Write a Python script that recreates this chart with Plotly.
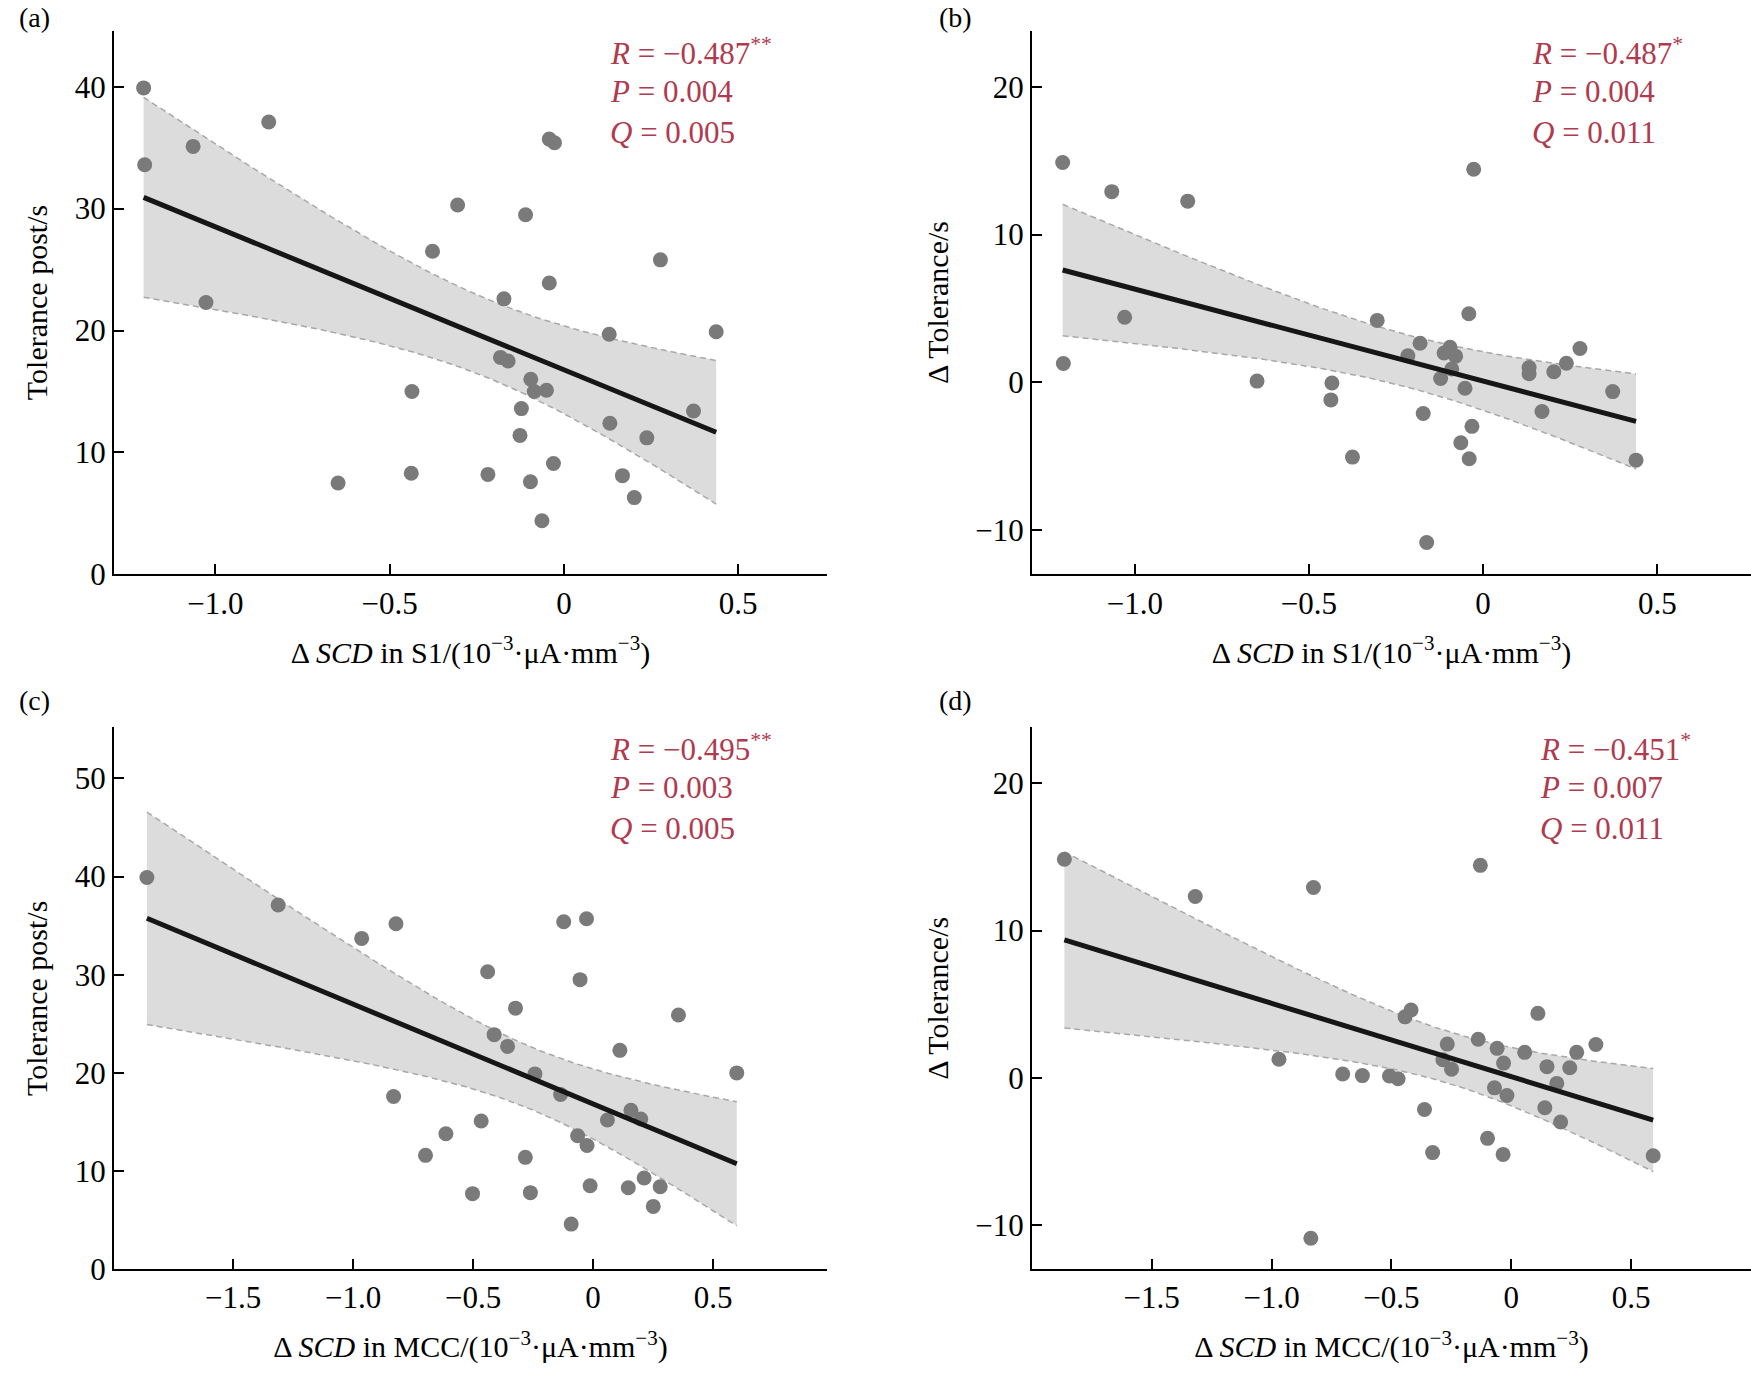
import numpy as np
from plotly import graph_objects as go

# panel (a): delta SCD in S1 vs tolerance post
scd_s1_a = [-1.206, -1.203, -0.847, -1.064, -1.027, -0.648, -0.436, -0.438, -0.377, -0.305,
            -0.218, -0.172, -0.182, -0.160, -0.110, -0.122, -0.126, -0.095, -0.085, -0.050,
            -0.096, -0.063, -0.042, -0.042, -0.027, -0.030, 0.130, 0.132, 0.168, 0.202,
            0.238, 0.277, 0.372, 0.437]
tol_post_a = [39.9, 33.6, 37.1, 35.1, 22.3, 7.5, 15.0, 8.3, 26.5, 30.3,
              8.2, 22.6, 17.8, 17.5, 29.5, 13.6, 11.4, 16.0, 15.0, 15.1,
              7.6, 4.4, 23.9, 35.7, 35.4, 9.1, 19.7, 12.4, 8.1, 6.3,
              11.2, 25.8, 13.4, 19.9]

# panel (b): delta SCD in S1 vs delta tolerance
scd_s1_b = [-1.207, -1.205, -1.066, -0.848, -1.029, -0.649, -0.434, -0.437, -0.375, -0.304,
            -0.181, -0.216, -0.112, -0.095, -0.079, -0.090, -0.122, -0.052, -0.172, -0.032,
            -0.064, -0.040, -0.162, -0.027, -0.041, 0.132, 0.132, 0.169, 0.203, 0.239,
            0.278, 0.372, 0.439]
d_tol_b = [14.87, 1.27, 12.9, 12.26, 4.4, 0.08, -0.05, -1.19, -5.06, 4.19,
           2.64, 1.79, 1.98, 2.37, 1.77, 0.90, 0.26, -0.40, -2.11, -2.98,
           -4.09, -5.17, -10.84, 14.42, 4.64, 1.00, 0.58, -1.98, 0.71, 1.29,
           2.29, -0.63, -5.27]

# panel (c): delta SCD in MCC vs tolerance post
scd_mcc_c = [-1.859, -1.312, -0.964, -0.821, -0.831, -0.698, -0.613, -0.502, -0.466, -0.439,
             -0.412, -0.356, -0.323, -0.282, -0.261, -0.242, -0.135, -0.122, -0.091, -0.064,
             -0.054, -0.027, -0.025, -0.012, 0.060, 0.112, 0.147, 0.158, 0.199, 0.213,
             0.251, 0.280, 0.356, 0.599]
tol_post_c = [39.9, 37.1, 33.7, 35.2, 17.6, 11.6, 13.8, 7.7, 15.1, 30.3,
              23.9, 22.7, 26.6, 11.4, 7.8, 19.9, 17.8, 35.4, 4.6, 13.6,
              29.5, 35.7, 12.6, 8.5, 15.2, 22.3, 8.3, 16.2, 15.3, 9.3,
              6.4, 8.4, 25.9, 20.0]

# panel (d): delta SCD in MCC vs delta tolerance
scd_mcc_d = [-1.864, -1.318, -0.825, -0.836, -0.969, -0.703, -0.621, -0.508, -0.472, -0.443,
             -0.418, -0.362, -0.328, -0.267, -0.285, -0.249, -0.138, -0.129, -0.099, -0.070,
             -0.059, -0.032, -0.034, -0.018, 0.056, 0.111, 0.149, 0.140, 0.190, 0.206,
             0.244, 0.273, 0.353, 0.592]
d_tol_d = [14.84, 12.31, 12.93, -10.90, 1.26, 0.26, 0.15, 0.12, -0.06, 4.14,
           4.61, -2.15, -5.08, 2.29, 1.23, 0.59, 2.62, 14.43, -4.11, -0.68,
           2.00, 1.00, -5.20, -1.20, 1.73, 4.38, 0.76, -2.03, -0.38, -3.00,
           0.68, 1.73, 2.26, -5.29]

stats_a = ["<i>R</i> = −0.487<sup>**</sup>", "<i>P</i> = 0.004", "<i>Q</i> = 0.005"]
stats_b = ["<i>R</i> = −0.487<sup>*</sup>", "<i>P</i> = 0.004", "<i>Q</i> = 0.011"]
stats_c = ["<i>R</i> = −0.495<sup>**</sup>", "<i>P</i> = 0.003", "<i>Q</i> = 0.005"]
stats_d = ["<i>R</i> = −0.451<sup>*</sup>", "<i>P</i> = 0.007", "<i>Q</i> = 0.011"]

x_ticks_s1 = [-1.0, -0.5, 0, 0.5]
x_text_s1 = ["−1.0", "−0.5", "0", "0.5"]
x_ticks_mcc = [-1.5, -1.0, -0.5, 0, 0.5]
x_text_mcc = ["−1.5", "−1.0", "−0.5", "0", "0.5"]
y_ticks_post_a = [0, 10, 20, 30, 40]
y_ticks_post_c = [0, 10, 20, 30, 40, 50]
y_ticks_delta = [-10, 0, 10, 20]
y_text_delta = ["−10", "0", "10", "20"]

title_s1 = "Δ <i>SCD</i> in S1/(10<sup>−3</sup>·μA·mm<sup>−3</sup>)"
title_mcc = "Δ <i>SCD</i> in MCC/(10<sup>−3</sup>·μA·mm<sup>−3</sup>)"

W, H = 1751, 1380
FONT = "Liberation Serif, Times New Roman, serif"
RED = "#B03A4E"


def fit_band(x, y):
    # least squares line with 95% confidence band
    x = np.asarray(x, float)
    y = np.asarray(y, float)
    n = len(x)
    b1, b0 = np.polyfit(x, y, 1)
    xs = np.linspace(x.min(), x.max(), 120)
    yhat = b0 + b1 * xs
    s = np.sqrt(np.sum((y - (b0 + b1 * x)) ** 2) / (n - 2))
    sxx = np.sum((x - x.mean()) ** 2)
    se = s * np.sqrt(1.0 / n + (xs - x.mean()) ** 2 / sxx)
    t = 2.04
    return xs, yhat, yhat + t * se, yhat - t * se


fig = go.Figure()

panels = [
    ("x", "y", scd_s1_a, tol_post_a),
    ("x2", "y2", scd_s1_b, d_tol_b),
    ("x3", "y3", scd_mcc_c, tol_post_c),
    ("x4", "y4", scd_mcc_d, d_tol_d),
]

for xa, ya, xv, yv in panels:
    xs, yhat, up, lo = fit_band(xv, yv)
    fig.add_trace(go.Scatter(x=np.concatenate([xs, xs[::-1]]), y=np.concatenate([up, lo[::-1]]),
                             fill="toself", fillcolor="#DCDCDC", line=dict(width=0),
                             mode="lines", hoverinfo="skip", xaxis=xa, yaxis=ya))
    for band in (up, lo):
        fig.add_trace(go.Scatter(x=xs, y=band, mode="lines",
                                 line=dict(color="#A8A8A8", width=1.5, dash="6px,4px"),
                                 xaxis=xa, yaxis=ya))
    fig.add_trace(go.Scatter(x=xv, y=yv, mode="markers",
                             marker=dict(size=15, color="#7A7A7A", line=dict(width=0)),
                             xaxis=xa, yaxis=ya))
    fig.add_trace(go.Scatter(x=xs, y=yhat, mode="lines",
                             line=dict(color="#161616", width=5), xaxis=xa, yaxis=ya))

# pixel boxes of each plot area (left, right, top, bottom)
boxes = {
    "a": (114, 827, 31, 582),
    "b": (1032, 1751, 31, 582),
    "c": (114, 827, 737, 1286),
    "d": (1032, 1751, 737, 1286),
}


def dom(box):
    l, r, t, b = box
    return [l / W, r / W], [1 - b / H, 1 - t / H]


axis_style = dict(showline=True, linecolor="black", linewidth=2, ticks="inside", ticklen=10,
                  tickwidth=1.5, tickcolor="black", showgrid=False, zeroline=False, mirror=False,
                  tickfont=dict(family=FONT, size=31, color="black"))

xa_dom, ya_dom = dom(boxes["a"])
xb_dom, yb_dom = dom(boxes["b"])
xc_dom, yc_dom = dom(boxes["c"])
xd_dom, yd_dom = dom(boxes["d"])

title_font = dict(family=FONT, size=30, color="black")
xt = 22
yt = 18

fig.update_layout(
    width=W, height=H, margin=dict(l=0, r=0, t=0, b=0),
    paper_bgcolor="white", plot_bgcolor="white", showlegend=False,
    xaxis=dict(domain=xa_dom, anchor="y", range=[-1.291, 0.755], tickvals=x_ticks_s1, ticktext=x_text_s1,
               title=dict(text=title_s1, font=title_font, standoff=xt), **axis_style),
    yaxis=dict(domain=ya_dom, anchor="x", range=[0, 44.6], tickvals=y_ticks_post_a,
               title=dict(text="Tolerance post/s", font=title_font, standoff=yt), **axis_style),
    xaxis2=dict(domain=xb_dom, anchor="y2", range=[-1.295, 0.769], tickvals=x_ticks_s1, ticktext=x_text_s1,
                title=dict(text=title_s1, font=title_font, standoff=xt), **axis_style),
    yaxis2=dict(domain=yb_dom, anchor="x2", range=[-13, 23.8], tickvals=y_ticks_delta, ticktext=y_text_delta,
                title=dict(text="Δ Tolerance/s", font=title_font, standoff=yt), **axis_style),
    xaxis3=dict(domain=xc_dom, anchor="y3", range=[-1.996, 0.975], tickvals=x_ticks_mcc, ticktext=x_text_mcc,
                title=dict(text=title_mcc, font=title_font, standoff=xt), **axis_style),
    yaxis3=dict(domain=yc_dom, anchor="x3", range=[0, 55.2], tickvals=y_ticks_post_c,
                title=dict(text="Tolerance post/s", font=title_font, standoff=yt), **axis_style),
    xaxis4=dict(domain=xd_dom, anchor="y4", range=[-1.999, 1.0], tickvals=x_ticks_mcc, ticktext=x_text_mcc,
                title=dict(text=title_mcc, font=title_font, standoff=xt), **axis_style),
    yaxis4=dict(domain=yd_dom, anchor="x4", range=[-13, 23.8], tickvals=y_ticks_delta, ticktext=y_text_delta,
                title=dict(text="Δ Tolerance/s", font=title_font, standoff=yt), **axis_style),
)

# panel letters
letters = [("(a)", 34, 18), ("(b)", 955, 18), ("(c)", 34, 710), ("(d)", 955, 710)]
for txt, px, py in letters:
    fig.add_annotation(x=px / W, y=1 - py / H, xref="paper", yref="paper", text=txt, showarrow=False,
                       xanchor="center", yanchor="middle", font=dict(family=FONT, size=28, color="black"))

# statistics text
stat_pos = [(stats_a, 608, 52), (stats_b, 1530, 52), (stats_c, 608, 757), (stats_d, 1538, 757)]
for lines, px, py in stat_pos:
    for i, line in enumerate(lines):
        fig.add_annotation(x=px / W, y=1 - (py + 41 * i) / H, xref="paper", yref="paper", text=line,
                           showarrow=False, xanchor="left", yanchor="middle",
                           font=dict(family=FONT, size=31, color=RED))

# drop the default page margin so the figure sits at the top-left corner
fig.write_html("out.html", config={"displayModeBar": False},
               post_script="document.body.style.margin='0';")
